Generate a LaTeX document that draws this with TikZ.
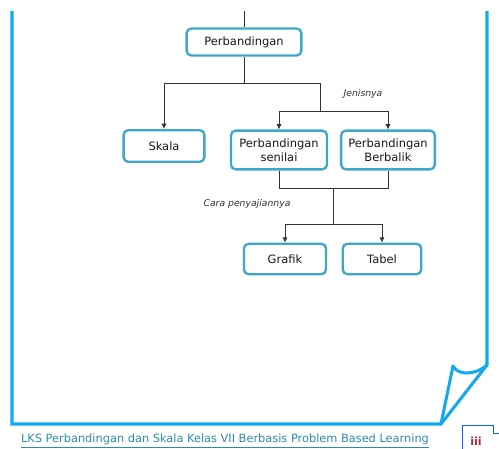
\documentclass[tikz,border=0pt]{standalone}
\usepackage{fontspec}
\setmainfont{DejaVu Sans}
\usepackage{xcolor}
\usepackage{tikz}
\usetikzlibrary{positioning,arrows.meta}

\definecolor{framecyan}{HTML}{12AAEA}
\definecolor{boxteal}{HTML}{3DA8CA}
\definecolor{linkgray}{HTML}{333333}
\definecolor{footteal}{HTML}{2F8CA6}
\definecolor{pagered}{HTML}{9E2B37}

\begin{document}
\begin{tikzpicture}[x=0.03cm,y=-0.03cm,
    box/.style={draw=boxteal,line width=2pt,rounded corners=4pt,fill=white,
      align=center,font=\fontsize{9.8}{11.5}\selectfont,text=black!90,inner sep=2pt},
    link/.style={draw=linkgray,line width=0.8pt},
    arr/.style={link,-{Latex[length=4.5pt,width=4.5pt]}},
    note/.style={font=\fontsize{7.9}{9}\selectfont\itshape,text=black!80}]

  \useasboundingbox (0,0) rectangle (499,449);

  
  \draw[framecyan,line width=2.6pt,line join=miter] (12,11) -- (12,424) -- (441,424) -- (487,365) -- (487,11);
  \draw[framecyan,line width=2.6pt,line join=round] (441,424) -- (453,366) .. controls (458,376) and (476,375) .. (487,365);

  
  \node[box,minimum width=98pt,minimum height=23pt] (perb) at (244,42) {Perbandingan};
  \node[box,minimum width=69pt,minimum height=27pt] (skala) at (164,146) {Skala};
  \node[box,minimum width=82pt,minimum height=33pt] (senilai) at (279,150) {Perbandingan\\senilai};
  \node[box,minimum width=80pt,minimum height=33pt] (berbalik) at (388,150) {Perbandingan\\Berbalik};
  \node[box,minimum width=70pt,minimum height=26pt] (grafik) at (285,259) {Grafik};
  \node[box,minimum width=67pt,minimum height=26pt] (tabel) at (382,259) {Tabel};

  \coordinate (entry) at (244,11);
  \coordinate (split) at (244,83);
  \coordinate (jenis) at (320,111);
  \coordinate (merge) at (333,188);
  \coordinate (cara) at (333,224);

  \draw[link] (entry) -- (perb.north);
  \draw[link] (perb.south) -- (split);
  \draw[arr] (split) -| (skala.north);
  \draw[link] (split) -| (jenis);
  \draw[arr] (jenis) -| (senilai.north);
  \draw[arr] (jenis) -| (berbalik.north);
  \draw[link] (senilai.south) |- (merge);
  \draw[link] (berbalik.south) |- (merge);
  \draw[link] (merge) -- (cara);
  \draw[arr] (cara) -| (grafik.north);
  \draw[arr] (cara) -| (tabel.north);

  \node[note] (jenislbl) at (363,94) {Jenisnya};
  \node[note] (caralbl) at (247,204) {Cara penyajiannya};

  
  \node[font=\fontsize{9.7}{11}\selectfont,text=footteal] (footer) at (225,441) {\underline{LKS Perbandingan dan Skala Kelas VII Berbasis Problem Based Learning}};
  \draw[blue!60!cyan,line width=0.5pt] (462,449) -- (462,425) -- (493,425) -- (493,433) -- (499,433);
  \node[font=\fontsize{9.5}{10}\selectfont\bfseries,text=pagered] (page) at (476,441) {iii};
\end{tikzpicture}
\end{document}
